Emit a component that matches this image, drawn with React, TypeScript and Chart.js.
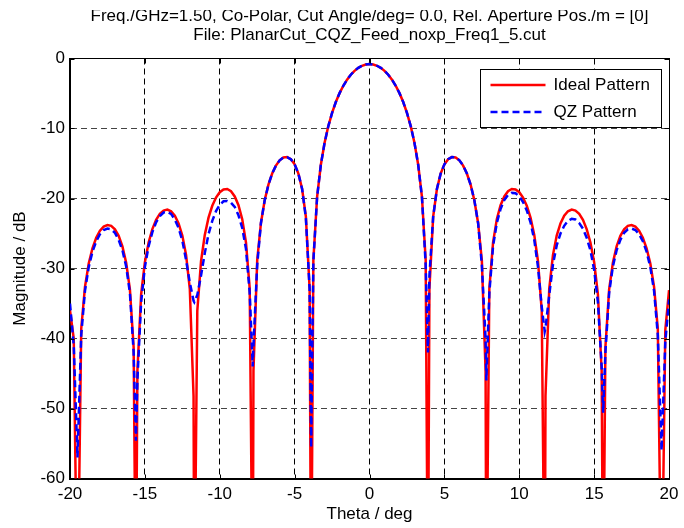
import React, { useEffect, useRef } from "react";
import { Chart, registerables } from "chart.js";

Chart.register(...registerables);

const TITLE_LINES = [
  "Freq./GHz=1.50, Co-Polar, Cut Angle/deg= 0.0, Rel. Aperture Pos./m = [0]",
  "File: PlanarCut_CQZ_Feed_noxp_Freq1_5.cut",
];
const X_TITLE = "Theta / deg";
const Y_TITLE = "Magnitude / dB";
const SERIES_LABELS = ["Ideal Pattern", "QZ Pattern"];
const X_TICKS = [-20, -15, -10, -5, 0, 5, 10, 15, 20];
const Y_TICKS = [-60, -50, -40, -30, -20, -10, 0];

// Theta / deg
const THETA = [
  -20, -19.75, -19.5, -19.25, -19, -18.75, -18.5, -18.25, -18, -17.75, -17.5, -17.25, -17, -16.75, -16.5, -16.25, -16, -15.75,
  -15.6,
  -15.5, -15.25, -15, -14.75, -14.5, -14.25, -14, -13.75, -13.5, -13.25, -13, -12.75, -12.5, -12.25, -12, -11.75,
  -11.7,
  -11.5, -11.25, -11, -10.75, -10.5, -10.25, -10, -9.75, -9.5, -9.25, -9, -8.75, -8.5, -8.25, -8,
  -7.8,
  -7.75, -7.5, -7.25, -7, -6.75, -6.5, -6.25, -6, -5.75, -5.5, -5.25, -5, -4.75, -4.5, -4.25, -4,
  -3.9,
  -3.75, -3.5, -3.25, -3, -2.75, -2.5, -2.25, -2, -1.75, -1.5, -1.25, -1, -0.75, -0.5, -0.25,
  0,
  0.25, 0.5, 0.75, 1, 1.25, 1.5, 1.75, 2, 2.25, 2.5, 2.75, 3, 3.25, 3.5, 3.75,
  3.9,
  4, 4.25, 4.5, 4.75, 5, 5.25, 5.5, 5.75, 6, 6.25, 6.5, 6.75, 7, 7.25, 7.5, 7.75,
  7.8,
  8, 8.25, 8.5, 8.75, 9, 9.25, 9.5, 9.75, 10, 10.25, 10.5, 10.75, 11, 11.25, 11.5,
  11.7,
  11.75, 12, 12.25, 12.5, 12.75, 13, 13.25, 13.5, 13.75, 14, 14.25, 14.5, 14.75, 15, 15.25, 15.5,
  15.6,
  15.75, 16, 16.25, 16.5, 16.75, 17, 17.25, 17.5, 17.75, 18, 18.25, 18.5, 18.75, 19, 19.25, 19.5, 19.75, 20,
];

// Ideal Pattern / dB
const IDEAL = [
  -36, -40, -80, -38.6, -32.63, -29.29, -27.11, -25.61, -24.61, -24.02, -23.79, -23.91, -24.41, -25.34, -26.84, -29.16, -32.99, -41.24,
  -80,
  -44.63, -33.7, -29.1, -26.28, -24.37, -23.05, -22.19, -21.72, -21.59, -21.82, -22.45, -23.55, -25.29, -28.05, -32.92, -48.22,
  -80,
  -36.05, -28.96, -25.2, -22.74, -21.04, -19.86, -19.1, -18.7, -18.65, -18.97, -19.7, -20.95, -22.95, -26.26, -32.88,
  -80,
  -44.62, -28.85, -23.49, -20.26, -18.02, -16.43, -15.3, -14.55, -14.14, -14.08, -14.38, -15.12, -16.44, -18.64, -22.6, -32.85,
  -80,
  -28.78, -19.78, -15.18, -12.04, -9.65, -7.76, -6.22, -4.95, -3.9, -3.03, -2.32, -1.76, -1.34, -1.04, -0.86,
  -0.8,
  -0.86, -1.04, -1.34, -1.76, -2.32, -3.03, -3.9, -4.95, -6.22, -7.76, -9.65, -12.04, -15.18, -19.78, -28.78,
  -80,
  -32.85, -22.6, -18.64, -16.44, -15.12, -14.38, -14.08, -14.14, -14.55, -15.3, -16.43, -18.02, -20.26, -23.49, -28.85, -44.62,
  -80,
  -32.88, -26.26, -22.95, -20.95, -19.7, -18.97, -18.65, -18.7, -19.1, -19.86, -21.04, -22.74, -25.2, -28.96, -36.05,
  -80,
  -48.22, -32.92, -28.05, -25.29, -23.55, -22.45, -21.82, -21.59, -21.72, -22.19, -23.05, -24.37, -26.28, -29.1, -33.7, -44.63,
  -80,
  -41.24, -32.99, -29.16, -26.84, -25.34, -24.41, -23.91, -23.79, -24.02, -24.61, -25.61, -27.11, -29.29, -32.63, -38.6, -80, -38.8, -33.09,
];

// QZ Pattern / dB
const QZ = [
  -35, -41, -57, -39.5, -33.2, -29.8, -27.6, -26.1, -25.1, -24.5, -24.3, -24.4, -24.9, -25.9, -27.4, -29.7, -33.5, -42,
  -54.6,
  -46, -34.8, -29.8, -26.8, -24.8, -23.4, -22.5, -22, -21.9, -22.2, -23, -24.2, -26, -28.8, -32, -34.6,
  -34.8,
  -33.8, -31, -27.8, -25.1, -23.2, -21.8, -20.9, -20.4, -20.35, -20.6, -21.2, -22.4, -24.2, -27.2, -33.5,
  -44,
  -41, -29.5, -23.49, -20.26, -18.02, -16.43, -15.3, -14.55, -14.14, -14.1, -14.4, -15.12, -16.44, -18.64, -22.8, -33,
  -55.6,
  -29, -19.78, -15.18, -12.04, -9.65, -7.76, -6.22, -4.95, -3.9, -3.03, -2.32, -1.76, -1.34, -1.04, -0.86,
  -0.8,
  -0.86, -1.04, -1.34, -1.76, -2.32, -3.03, -3.9, -4.95, -6.22, -7.76, -9.65, -12.04, -15.18, -19.78, -29.5,
  -42,
  -31, -22.6, -18.64, -16.44, -15.12, -14.38, -14.08, -14.14, -14.55, -15.3, -16.43, -18.02, -20.26, -23.49, -29.5, -40,
  -46,
  -33.5, -26.8, -23.5, -21.5, -20.2, -19.5, -19.2, -19.25, -19.7, -20.5, -21.7, -23.4, -25.9, -29.8, -35.5,
  -39,
  -38.5, -33.8, -29.4, -26.7, -25, -23.9, -23.2, -22.9, -23, -23.5, -24.3, -25.6, -27.4, -30.2, -34.8, -44,
  -50.6,
  -42, -33.5, -29.7, -27.4, -25.9, -24.9, -24.4, -24.3, -24.5, -25.1, -26.1, -27.6, -29.8, -33.2, -39.5, -56, -40.5, -34.4,
];

const FONT = '"Liberation Sans", Arial, Helvetica, sans-serif';
const RED = "#ff0000";
const BLUE = "#0000ff";
const CW = 684;
const CH = 518;

const framePlugin = {
  id: "matlabFrame",
  afterDraw(chart: any) {
    const { ctx, chartArea: a, scales } = chart;
    ctx.save();
    ctx.setLineDash([]);
    ctx.strokeStyle = "#000";
    ctx.lineWidth = 1;
    const L = Math.round(a.left) - 0.5;
    const R = Math.round(a.right) + 0.5;
    const T = Math.round(a.top) - 0.5;
    const B = Math.round(a.bottom) + 0.5;
    ctx.strokeRect(L, T, R - L, B - T);
    const TL = 5;
    ctx.beginPath();
    for (const v of X_TICKS) {
      const px = Math.round(scales.x.getPixelForValue(v)) + 0.5;
      ctx.moveTo(px, B);
      ctx.lineTo(px, B - TL);
      ctx.moveTo(px, T);
      ctx.lineTo(px, T + TL);
    }
    for (const v of Y_TICKS) {
      const py = Math.round(scales.y.getPixelForValue(v)) + 0.5;
      ctx.moveTo(L, py);
      ctx.lineTo(L + TL, py);
      ctx.moveTo(R, py);
      ctx.lineTo(R - TL, py);
    }
    ctx.stroke();

    // figure title (two lines)
    ctx.fillStyle = "#000";
    ctx.font = `17px ${FONT}`;
    ctx.textAlign = "center";
    ctx.textBaseline = "alphabetic";
    const cx = (a.left + a.right) / 2;
    ctx.fillText(TITLE_LINES[0], cx, a.top - 38);
    ctx.fillText(TITLE_LINES[1], cx, a.top - 18.5);

    // legend
    const bx = Math.round(a.right - 189) + 0.5;
    const by = Math.round(a.top + 10) + 0.5;
    const bw = 181;
    const bh = 58;
    ctx.fillStyle = "#fff";
    ctx.fillRect(bx, by, bw, bh);
    ctx.strokeStyle = "#000";
    ctx.lineWidth = 1;
    ctx.strokeRect(bx, by, bw, bh);
    const rows = [
      { y: by + 15.5, color: RED, dash: [] as number[], label: SERIES_LABELS[0] },
      { y: by + 42.5, color: BLUE, dash: [7, 4], label: SERIES_LABELS[1] },
    ];
    ctx.textAlign = "left";
    ctx.textBaseline = "middle";
    for (const r of rows) {
      ctx.save();
      ctx.strokeStyle = r.color;
      ctx.lineWidth = 2.5;
      ctx.setLineDash(r.dash);
      ctx.beginPath();
      ctx.moveTo(bx + 10, r.y);
      ctx.lineTo(bx + 65, r.y);
      ctx.stroke();
      ctx.restore();
      ctx.fillStyle = "#000";
      ctx.fillText(r.label, bx + 73, r.y + 0.5);
    }
    ctx.restore();
  },
};

export default function App() {
  const ref = useRef<HTMLCanvasElement | null>(null);
  useEffect(() => {
    if (!ref.current) return;
    const font = { family: FONT, size: 17 };
    const chart = new Chart(ref.current, {
      type: "line",
      data: {
        datasets: [
          {
            label: SERIES_LABELS[0],
            data: THETA.map((t, i) => ({ x: t, y: IDEAL[i] })),
            borderColor: RED,
            backgroundColor: RED,
            borderWidth: 2.5,
            pointRadius: 0,
            tension: 0,
            fill: false,
            order: 1,
          },
          {
            label: SERIES_LABELS[1],
            data: THETA.map((t, i) => ({ x: t, y: QZ[i] })),
            borderColor: BLUE,
            backgroundColor: BLUE,
            borderWidth: 2.5,
            borderDash: [7, 4],
            pointRadius: 0,
            tension: 0,
            fill: false,
            order: 0,
          },
        ],
      },
      options: {
        animation: false,
        responsive: false,
        devicePixelRatio: 1,
        layout: { padding: { left: 0, right: 12, top: 48.5, bottom: 0 } },
        plugins: {
          legend: { display: false },
          title: { display: false },
          tooltip: { enabled: false },
        },
        scales: {
          x: {
            type: "linear",
            min: X_TICKS[0],
            max: X_TICKS[X_TICKS.length - 1],
            afterFit: (s: any) => {
              s.height = 49.5;
            },
            ticks: {
              stepSize: X_TICKS[1] - X_TICKS[0],
              padding: 5.5,
              color: "#000",
              font,
              maxRotation: 0,
              autoSkip: false,
            },
            grid: { color: "#000", lineWidth: 1, drawTicks: false },
            border: { display: true, color: "#000", width: 1, dash: [6, 4] },
            title: {
              display: true,
              text: X_TITLE,
              color: "#000",
              font,
              padding: { top: 0, bottom: 3 },
            },
          },
          y: {
            type: "linear",
            min: Y_TICKS[0],
            max: Y_TICKS[Y_TICKS.length - 1],
            afterFit: (s: any) => {
              s.width = 70;
            },
            ticks: {
              stepSize: Y_TICKS[1] - Y_TICKS[0],
              padding: 5,
              color: "#000",
              font,
              autoSkip: false,
            },
            grid: { color: "#444", lineWidth: 1, drawTicks: false },
            border: { display: true, color: "#000", width: 1, dash: [6, 4] },
            title: {
              display: true,
              text: Y_TITLE,
              color: "#000",
              font,
              padding: { top: 10, bottom: 0 },
            },
          },
        },
      },
      plugins: [framePlugin],
    });
    return () => chart.destroy();
  }, []);
  return (
    <div style={{ position: "absolute", left: 0, top: 10, width: CW, height: CH }}>
      <canvas ref={ref} width={CW} height={CH} style={{ display: "block", width: CW, height: CH }} />
    </div>
  );
}
